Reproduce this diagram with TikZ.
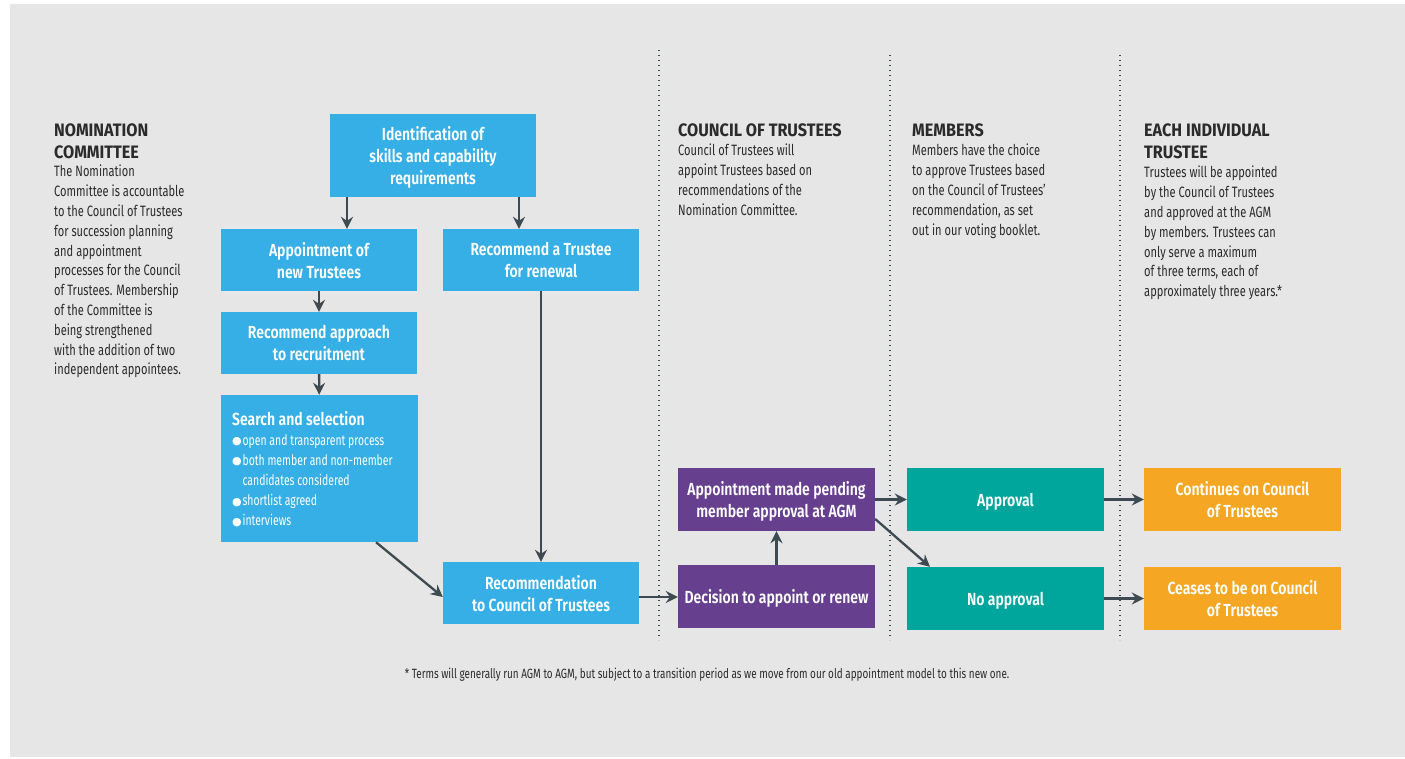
\documentclass[tikz,border=0pt]{standalone}
\usepackage{fontspec}
\setmainfont{Fira Sans}[FakeStretch=0.74]
\newfontfamily\boxfont{Fira Sans SemiBold}[FakeStretch=0.80]
\newfontfamily\headfont{Fira Sans Bold}[FakeStretch=0.90]
\newfontfamily\listfont{Fira Sans}[FakeStretch=0.72]
\newfontfamily\symfont{DejaVu Sans}
\usetikzlibrary{arrows.meta}
\definecolor{bg}{HTML}{E6E6E6}
\definecolor{cblue}{HTML}{35AFE5}
\definecolor{cpurple}{HTML}{673F8F}
\definecolor{cteal}{HTML}{00A69C}
\definecolor{corange}{HTML}{F5A623}
\definecolor{carrow}{HTML}{3D4A52}
\definecolor{ctext}{HTML}{2B2B2B}
\newcommand\bul{\raisebox{0.4pt}{\symfont\fontsize{11}{10}\selectfont ●}\hspace{0.8pt}}
\tikzset{
  box/.style={rectangle, inner sep=0pt, text=white, align=center, text depth=0pt,
    font=\boxfont\fontsize{17.5}{22}\selectfont},
  bluebox/.style={box, fill=cblue},
  purplebox/.style={box, fill=cpurple},
  tealbox/.style={box, fill=cteal},
  orangebox/.style={box, fill=corange},
  arr/.style={draw=carrow, line width=2.3pt, -{Stealth[length=12pt,width=12pt,inset=4pt]}},
  sep/.style={draw=carrow, line width=1.4pt, dash pattern=on 1.2pt off 3.8pt},
  head/.style={anchor=north west, inner sep=0pt, align=left, text=ctext,
    font=\headfont\fontsize{18}{22}\selectfont},
  para/.style={anchor=north west, inner sep=0pt, align=left, text=ctext,
    font=\fontsize{15}{19.8}\selectfont},
  foot/.style={inner sep=0pt, text=ctext, font=\fontsize{13.4}{15}\selectfont},
}
\begin{document}
\begin{tikzpicture}[x=1pt,y=-1pt]
\useasboundingbox (0,0) rectangle (1405,758);
\fill[bg] (10,4) rectangle (1405,757);

% separators
\coordinate (s1a) at (659,50); \coordinate (s1b) at (659,640);
\coordinate (s2a) at (890,55); \coordinate (s2b) at (890,640);
\coordinate (s3a) at (1120,55); \coordinate (s3b) at (1120,640);
\draw[sep] (s1a) -- (s1b);
\draw[sep] (s2a) -- (s2b);
\draw[sep] (s3a) -- (s3b);

% column texts
\node[head] (nch) at (54,124) {NOMINATION\\COMMITTEE};
\node[para] (nc) at (54,165) {The Nomination\\Committee is accountable\\to the Council of Trustees\\for succession planning\\and appointment\\processes for the Council\\of Trustees. Membership\\of the Committee is\\being strengthened\\with the addition of two\\independent appointees.};

\node[head] (cth) at (678,124) {COUNCIL OF TRUSTEES};
\node[para] (ct) at (678,144) {Council of Trustees will\\appoint Trustees based on\\recommendations of the\\Nomination Committee.};

\node[head] (mbh) at (912,124) {MEMBERS};
\node[para] (mb) at (912,144) {Members have the choice\\to approve Trustees based\\on the Council of Trustees'\\recommendation, as set\\out in our voting booklet.};

\node[head] (eih) at (1144,124) {EACH INDIVIDUAL\\TRUSTEE};
\node[para] (ei) at (1144,166) {Trustees will be appointed\\by the Council of Trustees\\and approved at the AGM\\by members. Trustees can\\only serve a maximum\\of three terms, each of\\approximately three years.*};

% boxes
\node[bluebox, minimum width=206, minimum height=83] (id) at (433,155.5) {Identification of\\skills and capability\\requirements};
\node[bluebox, minimum width=196, minimum height=62] (an) at (319,260) {Appointment of\\new Trustees};
\node[bluebox, minimum width=196, minimum height=62] (rr) at (541,260) {Recommend a Trustee\\for renewal};
\node[bluebox, minimum width=196, minimum height=62] (ra) at (319,343) {Recommend approach\\to recruitment};
\node[bluebox, minimum width=197, minimum height=147] (ss) at (319.5,468.5) {};
\node[anchor=north west, inner sep=0pt, text=white, font=\boxfont\fontsize{17.5}{22}\selectfont] (sstt) at (232,411) {Search and selection};
\node[anchor=north west, inner sep=0pt, align=left, text=white, font=\listfont\fontsize{14.5}{20.2}\selectfont] (sst) at (232,434)
  {\bul open and transparent process\\
   \bul both member and non-member\\
   \phantom{\bul}candidates considered\\
   \bul shortlist agreed\\
   \bul interviews};
\node[bluebox, minimum width=196, minimum height=62] (rc) at (541,593) {Recommendation\\to Council of Trustees};

\node[purplebox, minimum width=197, minimum height=63] (ap) at (776.5,499.5) {Appointment made pending\\member approval at AGM};
\node[purplebox, minimum width=197, minimum height=63] (dc) at (776.5,596.5) {Decision to appoint or renew};

\node[tealbox, minimum width=197, minimum height=63] (aa) at (1005.5,499.5) {Approval};
\node[tealbox, minimum width=197, minimum height=63] (na) at (1005.5,598.5) {No approval};

\node[orangebox, minimum width=197, minimum height=63] (co) at (1242.5,499.5) {Continues on Council\\of Trustees};
\node[orangebox, minimum width=197, minimum height=63] (ce) at (1242.5,598.5) {Ceases to be on Council\\of Trustees};

% arrows
\draw[arr] (id.south -| 347,0) -- (an.north -| 347,0);
\draw[arr] (id.south -| 519,0) -- (rr.north -| 519,0);
\draw[arr] (an) -- (ra);
\draw[arr] (ra) -- (ss);
\draw[arr] (ss.south -| 376,0) -- (rc.west |- 0,597);
\draw[arr] (rr) -- (rc);
\draw[arr] (rc.east |- 0,597) -- (dc.west |- 0,597);
\draw[arr] (dc) -- (ap);
\draw[arr] (ap.east) -- (aa.west);
\draw[arr] (ap.east |- 0,519) -- (na.north -| 930,0);
\draw[arr] (aa) -- (co);
\draw[arr] (na) -- (ce);

% footnote
\node[foot] (fn) at (707,675) {* Terms will generally run AGM to AGM, but subject to a transition period as we move from our old appointment model to this new one.};
\end{tikzpicture}
\end{document}
